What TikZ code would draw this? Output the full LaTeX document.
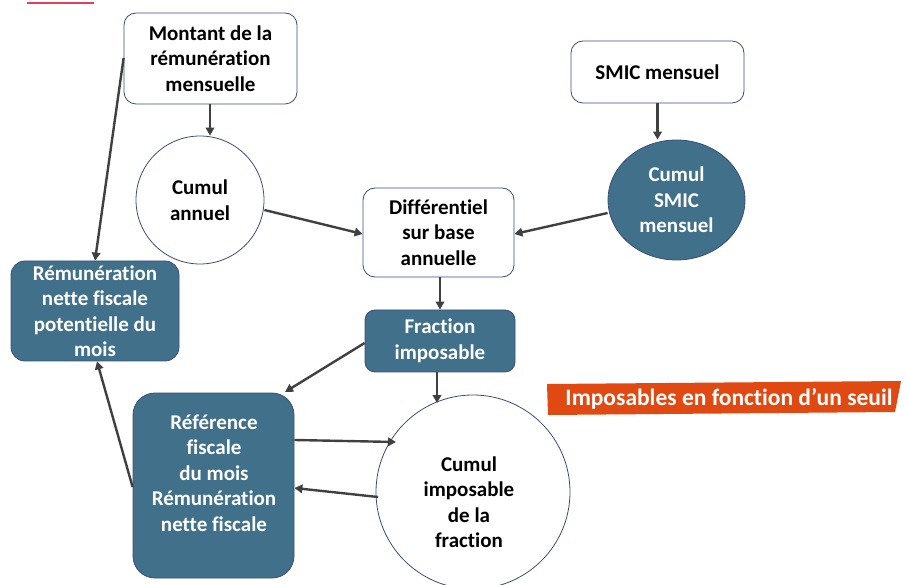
\documentclass[tikz,border=0pt]{standalone}
\usepackage{fontspec}
\setmainfont{Carlito}[Ligatures=NoCommon]
\usetikzlibrary{arrows.meta,shapes.geometric}
\definecolor{teal}{HTML}{41708A}
\definecolor{bord}{HTML}{3B4E7A}
\definecolor{arr}{HTML}{404040}
\definecolor{banner}{HTML}{E04A12}
\definecolor{redline}{HTML}{E0405A}
\tikzset{
  txt/.style={font=\fontsize{21}{25.5}\selectfont\bfseries, align=center, inner sep=0pt},
  whitebox/.style={txt, draw=bord, line width=0.8pt, fill=white, rounded corners=12pt},
  darkbox/.style={txt, draw=bord, line width=0.8pt, fill=teal, text=white, rounded corners=14pt},
  whitecirc/.style={txt, draw=bord, line width=0.8pt, fill=white, circle},
  darkell/.style={txt, draw=bord, line width=0.8pt, fill=teal, text=white, ellipse},
  conn/.style={draw=arr, line width=2.4pt, -{Triangle[length=8pt,width=8.5pt]}},
}
\begin{document}
\begin{tikzpicture}[x=1pt,y=-1pt]
\useasboundingbox (0,0) rectangle (908,585);
\draw[redline, line width=2pt] (27,3) -- (94,3);

\node[whitebox, minimum width=173pt, minimum height=91pt] (mont) at (210.5,58.5) {Montant de la\\rémunération\\mensuelle};
\node[whitebox, minimum width=173pt, minimum height=62pt] (smic) at (657.5,72) {SMIC mensuel};
\node[whitecirc, minimum size=128pt] (cann) at (200,200) {Cumul\\annuel};
\node[darkell, minimum width=137pt, minimum height=120pt] (csmic) at (676.5,200) {Cumul\\SMIC\\mensuel};
\node[whitebox, minimum width=151pt, minimum height=89pt] (diff) at (438.5,232.5) {Différentiel\\sur base\\annuelle};
\node[darkbox, minimum width=150pt, minimum height=62pt, rounded corners=10pt] (frac) at (440,341) {Fraction\\imposable};
\node[darkbox, minimum width=168pt, minimum height=100pt] (pot) at (95,311) {Rémunération\\nette fiscale\\potentielle du\\mois};
\node[darkbox, minimum width=161pt, minimum height=185pt, rounded corners=22pt] (ref) at (213.5,485.5) {};
\node[txt, text=white] (reftxt) at (214,473) {Référence\\fiscale\\du mois\\Rémunération\\nette fiscale};
\node[whitecirc, minimum size=194pt] (cimp) at (473,492) {};
\node[txt] (cimptxt) at (469,502) {Cumul\\imposable\\de la\\fraction};

\fill[banner] (547,384) -- (901,381) -- (895,412) -- (548,415) -- cycle;
\node[font=\fontsize{23.5}{26}\selectfont\bfseries, text=white, inner sep=0pt] (ban) at (729,399) {Imposables en fonction d’un seuil};

\draw[conn] (mont.south -| 210,0) -- (cann.north -| 210,0);
\draw[conn] (mont.west |- 0,58) -- (pot.north);
\draw[conn] (smic.south) -- (csmic.north -| smic.south);
\draw[conn] (cann.east |- 0,210) -- (diff.west |- 0,234);
\draw[conn] (csmic.west |- 0,213) -- (diff.east |- 0,234);
\draw[conn] (diff.south -| 440,0) -- (frac.north -| 440,0);
\draw[conn] (frac.west |- 0,343) -- (285,392);
\draw[conn] (frac.south -| 437,0) -- (437,403);
\draw[conn] (ref.east |- 0,440) -- (396,442);
\draw[conn] (378,497) -- (ref.east |- 0,488);
\draw[conn] (ref.west |- 0,487) -- (pot.south -| 97,0);
\end{tikzpicture}
\end{document}
